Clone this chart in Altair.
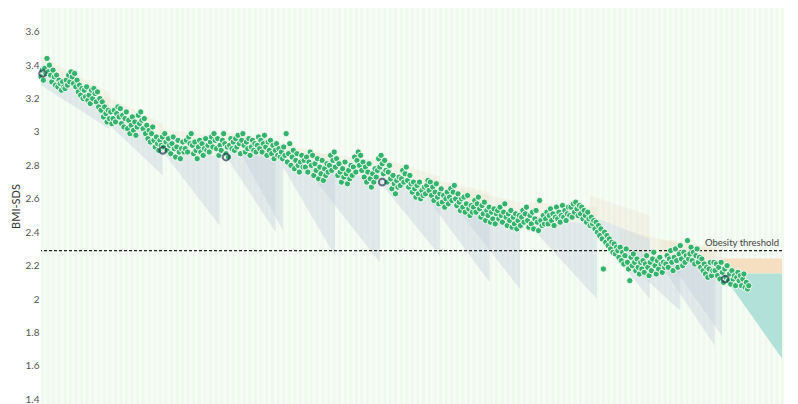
import altair as alt
import pandas as pd

# ---------------- data ----------------
# BMI-SDS measurements, one every 1.5 days (day = 1.5 * i)
bmi_sds = [
    3.33, 3.37, 3.31, 3.38, 3.35, 3.44, 3.36, 3.40, 3.34, 3.30, 3.37, 3.33, 3.28, 3.34, 3.27, 3.31, 3.29, 3.25, 3.30, 3.27,
    3.26, 3.31, 3.28, 3.34, 3.30, 3.36, 3.33, 3.29, 3.35, 3.27, 3.31, 3.24, 3.28, 3.22, 3.26, 3.20, 3.25, 3.21, 3.27, 3.19,
    3.22, 3.17, 3.25, 3.20, 3.26, 3.23, 3.18, 3.24, 3.15, 3.20, 3.13, 3.18, 3.09, 3.15, 3.11, 3.06, 3.13, 3.08, 3.12, 3.05,
    3.08, 3.13, 3.06, 3.11, 3.15, 3.09, 3.14, 3.05, 3.10, 3.03, 3.08, 3.12, 3.02, 3.07, 2.99, 3.04, 3.09, 3.01, 3.06, 2.98,
    3.03, 3.10, 3.05, 3.12, 3.07, 3.02, 3.08, 2.99, 3.04, 2.96, 3.01, 2.94, 2.99, 3.03, 2.95, 2.91, 2.97, 2.93, 2.89, 2.95,
    2.92, 2.97, 2.91, 2.99, 2.94, 2.89, 2.96, 2.92, 2.87, 2.93, 2.97, 2.90, 2.85, 2.91, 2.95, 2.88, 2.84, 2.90, 2.94, 2.88,
    2.90, 2.95, 2.88, 2.97, 2.93, 2.99, 2.92, 2.87, 2.94, 2.89, 2.84, 2.91, 2.95, 2.88, 2.93, 2.86, 2.90, 2.96, 2.89, 2.92,
    2.88, 2.94, 2.97, 2.91, 2.99, 2.95, 2.90, 2.96, 2.86, 2.92, 2.89, 2.95, 2.99, 2.93, 2.87, 2.91, 2.85, 2.92, 2.96, 2.90,
    2.94, 2.89, 2.96, 2.91, 2.98, 2.93, 2.87, 2.95, 2.99, 2.92, 2.88, 2.94, 2.90, 2.96, 2.86, 2.91, 2.95, 2.89, 2.93, 2.88,
    2.92, 2.97, 2.90, 2.95, 2.88, 2.93, 2.98, 2.91, 2.86, 2.94, 2.89, 2.95, 2.87, 2.92, 2.84, 2.89, 2.93, 2.86, 2.90, 2.85,
    2.88, 2.84, 2.91, 2.86, 2.99, 2.82, 2.87, 2.93, 2.80, 2.85, 2.89, 2.78, 2.83, 2.87, 2.80, 2.76, 2.82, 2.86, 2.79, 2.83,
    2.79, 2.85, 2.76, 2.82, 2.88, 2.80, 2.86, 2.74, 2.81, 2.77, 2.84, 2.72, 2.79, 2.75, 2.83, 2.71, 2.78, 2.74, 2.81, 2.76,
    2.80, 2.86, 2.77, 2.83, 2.88, 2.79, 2.84, 2.74, 2.81, 2.76, 2.70, 2.78, 2.73, 2.82, 2.75, 2.69, 2.77, 2.72, 2.80, 2.74,
    2.79, 2.85, 2.76, 2.83, 2.88, 2.80, 2.86, 2.77, 2.82, 2.73, 2.79, 2.70, 2.76, 2.81, 2.72, 2.67, 2.75, 2.70, 2.78, 2.73,
    2.77, 2.84, 2.79, 2.86, 2.81, 2.75, 2.83, 2.77, 2.70, 2.76, 2.80, 2.72, 2.66, 2.74, 2.69, 2.63, 2.71, 2.67, 2.73, 2.68,
    2.72, 2.77, 2.70, 2.75, 2.79, 2.71, 2.67, 2.74, 2.69, 2.64, 2.70, 2.66, 2.61, 2.68, 2.63, 2.70, 2.60, 2.65, 2.62, 2.67,
    2.63, 2.68, 2.71, 2.65, 2.70, 2.62, 2.67, 2.59, 2.64, 2.69, 2.61, 2.57, 2.63, 2.66, 2.58, 2.62, 2.55, 2.60, 2.64, 2.57,
    2.61, 2.66, 2.59, 2.64, 2.68, 2.60, 2.56, 2.63, 2.58, 2.53, 2.60, 2.55, 2.61, 2.52, 2.57, 2.62, 2.54, 2.50, 2.56, 2.52,
    2.55, 2.59, 2.52, 2.57, 2.61, 2.54, 2.49, 2.56, 2.51, 2.58, 2.47, 2.53, 2.50, 2.55, 2.46, 2.52, 2.48, 2.54, 2.45, 2.51,
    2.53, 2.48, 2.55, 2.50, 2.46, 2.52, 2.57, 2.49, 2.44, 2.51, 2.47, 2.53, 2.43, 2.49, 2.45, 2.51, 2.42, 2.47, 2.50, 2.44,
    2.49, 2.53, 2.46, 2.51, 2.55, 2.47, 2.43, 2.50, 2.45, 2.52, 2.42, 2.48, 2.53, 2.46, 2.41, 2.59, 2.47, 2.44, 2.50, 2.45,
    2.48, 2.52, 2.45, 2.50, 2.54, 2.47, 2.51, 2.44, 2.49, 2.55, 2.48, 2.52, 2.46, 2.50, 2.56, 2.49, 2.53, 2.47, 2.51, 2.55,
    2.50, 2.55, 2.49, 2.57, 2.52, 2.58, 2.54, 2.50, 2.56, 2.51, 2.55, 2.48, 2.53, 2.50, 2.46, 2.52, 2.48, 2.44, 2.49, 2.45,
    2.47, 2.42, 2.46, 2.40, 2.44, 2.38, 2.42, 2.36, 2.18, 2.40, 2.34, 2.38, 2.32, 2.36, 2.30, 2.34, 2.28, 2.33, 2.27, 2.31,
    2.29, 2.25, 2.31, 2.23, 2.28, 2.21, 2.26, 2.30, 2.22, 2.18, 2.11, 2.25, 2.20, 2.27, 2.22, 2.17, 2.24, 2.19, 2.15, 2.22,
    2.18, 2.23, 2.16, 2.21, 2.26, 2.19, 2.14, 2.22, 2.17, 2.24, 2.28, 2.20, 2.15, 2.23, 2.18, 2.25, 2.21, 2.16, 2.22, 2.19,
    2.21, 2.26, 2.19, 2.24, 2.29, 2.22, 2.17, 2.25, 2.30, 2.23, 2.19, 2.27, 2.32, 2.24, 2.20, 2.28, 2.22, 2.26, 2.35, 2.24,
    2.27, 2.31, 2.23, 2.28, 2.21, 2.26, 2.30, 2.22, 2.25, 2.19, 2.24, 2.17, 2.21, 2.15, 2.19, 2.13, 2.18, 2.22, 2.14, 2.17,
    2.22, 2.17, 2.21, 2.14, 2.19, 2.12, 2.22, 2.16, 2.10, 2.18, 2.13, 2.20, 2.11, 2.15, 2.09, 2.17, 2.12, 2.14, 2.08, 2.13,
    2.16, 2.11, 2.14, 2.08, 2.12, 2.15, 2.07, 2.10, 2.06, 2.08,
]
measure_days = [1.5 * i for i in range(len(bmi_sds))]

# highlighted check-in points (dark rings)
ring_days = [2, 152, 231, 426, 854]
ring_vals = [3.35, 2.89, 2.85, 2.70, 2.12]

# forecast cones: start/end day, upper (beige) edge, middle, lower edge
cone_start = [0, 79, 149, 230, 252, 302, 336, 423, 486, 523, 610, 685, 723, 773, 785]
cone_end = [85, 152, 223, 293, 302, 367, 423, 498, 560, 598, 694, 760, 798, 841, 850]
cone_hi_start = [3.45, 3.22, 3.02, 3.00, 2.98, 2.93, 2.88, 2.85, 2.72, 2.66, 2.58, 2.62, 2.42, 2.36, 2.36]
cone_hi_end = [3.24, 3.05, 2.97, 2.95, 2.93, 2.85, 2.83, 2.73, 2.64, 2.58, 2.55, 2.50, 2.33, 2.30, 2.30]
cone_mid_start = [3.36, 3.12, 2.93, 2.90, 2.89, 2.83, 2.79, 2.74, 2.62, 2.56, 2.48, 2.50, 2.30, 2.25, 2.26]
cone_mid_end = [3.16, 2.95, 2.85, 2.83, 2.84, 2.76, 2.72, 2.62, 2.54, 2.48, 2.45, 2.36, 2.22, 2.20, 2.20]
cone_lo_start = [3.28, 3.07, 2.90, 2.86, 2.85, 2.79, 2.75, 2.70, 2.58, 2.52, 2.44, 2.45, 2.26, 2.21, 2.22]
cone_lo_end = [3.02, 2.74, 2.44, 2.40, 2.41, 2.26, 2.22, 2.26, 2.10, 2.06, 2.00, 2.00, 1.93, 1.72, 1.78]

# final prediction zone
zone_start, zone_end = 850, 925
zone_orange_top, zone_orange_bottom = 2.243, 2.153
zone_teal_bottom = 1.645

threshold = 2.29
threshold_label = "Obesity threshold"

x_domain = [0, 925]
y_domain = [1.372, 3.742]
y_ticks = [1.4, 1.6, 1.8, 2.0, 2.2, 2.4, 2.6, 2.8, 3.0, 3.2, 3.4, 3.6]
week_starts = list(range(0, 925, 7))

# ---------------- frames ----------------
pts = pd.DataFrame({"day": measure_days, "bmi": bmi_sds})
rings = pd.DataFrame({"day": ring_days, "bmi": ring_vals})

cone_rows = []
for k in range(len(cone_start)):
    cone_rows.append({"cone": k, "day": cone_start[k], "hi": cone_hi_start[k],
                      "mid": cone_mid_start[k], "lo": cone_lo_start[k]})
    cone_rows.append({"cone": k, "day": cone_end[k], "hi": cone_hi_end[k],
                      "mid": cone_mid_end[k], "lo": cone_lo_end[k]})
cones = pd.DataFrame(cone_rows)

stripes = pd.DataFrame({"s": week_starts, "e": [w + 3.5 for w in week_starts]})
teal = pd.DataFrame({"day": [zone_start, zone_end],
                     "top": [zone_orange_bottom, zone_orange_bottom],
                     "bot": [zone_orange_bottom, zone_teal_bottom]})
orange = pd.DataFrame({"s": [zone_start], "e": [zone_end],
                       "t": [zone_orange_top], "b": [zone_orange_bottom]})
thr = pd.DataFrame({"v": [threshold], "day": [x_domain[1]], "label": [threshold_label]})

X = alt.Scale(domain=x_domain, nice=False, zero=False)
Y = alt.Scale(domain=y_domain, nice=False, zero=False)

yaxis = alt.Axis(values=y_ticks, format=".1~f", title="BMI-SDS", domain=False,
                 ticks=False, grid=False, labelOverlap=False, labelFont="Lato",
                 labelFontSize=10, labelColor="#555555", labelPadding=2,
                 titleFont="Lato", titleFontSize=11, titleFontWeight="normal",
                 titleColor="#333333", titlePadding=4)

stripe_layer = alt.Chart(stripes).mark_rect(color="#e9f6e6", opacity=0.6).encode(
    x=alt.X("s:Q", scale=X, axis=None), x2="e:Q",
    y=alt.value(0), y2=alt.value(396))

beige_layer = alt.Chart(cones).mark_area(color="#eddcc0", opacity=0.25).encode(
    x=alt.X("day:Q", scale=X, axis=None),
    y=alt.Y("hi:Q", scale=Y, axis=yaxis), y2="mid:Q", detail="cone:N")

gray_layer = alt.Chart(cones).mark_area(color="#c3cfdb", opacity=0.4).encode(
    x=alt.X("day:Q", scale=X, axis=None),
    y=alt.Y("mid:Q", scale=Y, axis=yaxis), y2="lo:Q", detail="cone:N")

orange_layer = alt.Chart(orange).mark_rect(color="#f6dfc0").encode(
    x=alt.X("s:Q", scale=X, axis=None), x2="e:Q",
    y=alt.Y("t:Q", scale=Y, axis=yaxis), y2="b:Q")

teal_layer = alt.Chart(teal).mark_area(color="#b1e1d9").encode(
    x=alt.X("day:Q", scale=X, axis=None),
    y=alt.Y("top:Q", scale=Y, axis=yaxis), y2="bot:Q")

rule_layer = alt.Chart(thr).mark_rule(color="#222222", strokeDash=[3, 2],
                                      strokeWidth=1.3).encode(
    y=alt.Y("v:Q", scale=Y, axis=yaxis))

label_layer = alt.Chart(thr).mark_text(align="right", baseline="bottom", dx=-3, dy=-3,
                                       font="Lato", fontSize=9.5,
                                       color="#444444").encode(
    x=alt.X("day:Q", scale=X, axis=None), y=alt.Y("v:Q", scale=Y, axis=yaxis),
    text="label:N")

point_layer = alt.Chart(pts).mark_circle(size=40, color="#34b36a", opacity=1,
                                         stroke="white", strokeWidth=0.9).encode(
    x=alt.X("day:Q", scale=X, axis=None), y=alt.Y("bmi:Q", scale=Y, axis=yaxis))

ring_layer = alt.Chart(rings).mark_point(shape="circle", size=45, filled=False,
                                         color="#2b3a55", strokeWidth=2).encode(
    x=alt.X("day:Q", scale=X, axis=None), y=alt.Y("bmi:Q", scale=Y, axis=yaxis))

chart = alt.layer(
    stripe_layer, beige_layer, gray_layer, orange_layer, teal_layer,
    rule_layer, label_layer, point_layer, ring_layer
).properties(
    width=741, height=396,
    autosize=alt.AutoSizeParams(type="none"),
    padding={"left": 33, "top": 0, "right": 8, "bottom": 0},
).configure_view(fill="#f8fcf7", strokeWidth=0).configure_axis(labelOverlap=False)

chart.save("out.html", embed_options={"renderer": "svg", "actions": False})
